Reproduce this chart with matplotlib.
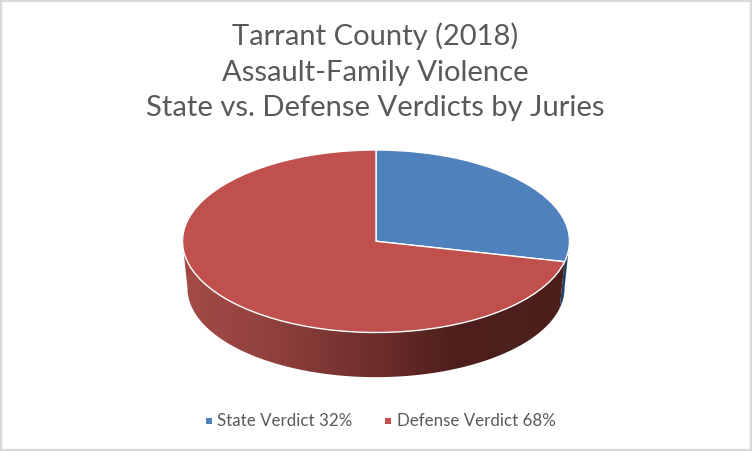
import numpy as np
import matplotlib
matplotlib.use("Agg")
import matplotlib.pyplot as plt
from matplotlib.colors import LinearSegmentedColormap
from matplotlib.patches import Rectangle, Polygon

title_lines = ["Tarrant County (2018)", "Assault-Family Violence", "State vs. Defense Verdicts by Juries"]
categories = ["State Verdict 32%", "Defense Verdict 68%"]
# slice shares as drawn in the picture (perspective makes the blue slice look smaller than its label)
drawn_shares = [28.6, 71.4]
colors = ["#4F81BD", "#C0504D"]
text_color = "#595959"

W, H = 752, 452
fig = plt.figure(figsize=(W / 100, H / 100), dpi=100, facecolor="white")
plt.rcParams["font.family"] = ["Lato", "DejaVu Sans"]

# Frame
fig.add_artist(Rectangle((1 / W, 1.5 / H), (W - 2.5) / W, (H - 3.5) / H, transform=fig.transFigure,
                         fill=False, ec="#D9D9D9", lw=1.6))

# Pie axes: the box is the top ellipse
x0, x1, y0, y1 = 182.5, 569.5, 151, 333.5
ax = fig.add_axes([x0 / W, 1 - y1 / H, (x1 - x0) / W, (y1 - y0) / H])
ax.pie(drawn_shares, colors=colors, startangle=90, counterclock=False, radius=1,
       wedgeprops=dict(edgecolor="white", linewidth=1.0, zorder=5, clip_on=False))
ax.set_aspect("auto")
ax.axis("off")

# Extruded side: horizontal gradient clipped to the outline of the rim
depth = 47 / 91.25
shrink = 188.5 / 193.5
boundary = 360 - (drawn_shares[0] / sum(drawn_shares) * 360 - 90)


def rim(a_from, a_to):
    t = np.radians(np.linspace(a_from, a_to, 200))
    top = np.column_stack([np.cos(t), np.sin(t)])
    bottom = np.column_stack([shrink * np.cos(t), shrink * np.sin(t) - depth])[::-1]
    return np.vstack([top, bottom])


red_shade = LinearSegmentedColormap.from_list("r", [(0, "#A34A46"), (0.2, "#93433F"), (0.5, "#6E2D2B"),
                                                    (0.7, "#4E1F1D"), (1, "#4B1E1C")])
gradient = np.linspace(0, 1, 512).reshape(1, -1)
img = ax.imshow(gradient, cmap=red_shade, extent=(-1, 1, -1 - depth, 0.2), aspect="auto",
                zorder=1, interpolation="bilinear")
ax.add_patch(Polygon(rim(boundary, 360), closed=True, fc="#1F3F63", ec="none", zorder=0.5, clip_on=False))
ax.set_xlim(-1, 1)
ax.set_ylim(-1, 1)
img.set_clip_path(Polygon(rim(180, boundary), closed=True, transform=ax.transData))
img.set_clip_box(fig.bbox)

# Title
for line, y in zip(title_lines, [36, 72.5, 108.5]):
    fig.text(375.5 / W, 1 - y / H, line, ha="center", va="center", fontsize=21, color=text_color)

# Legend
legend_items = [(206, 217, 0), (385, 397, 1)]
for sx, tx, i in legend_items:
    fig.add_artist(Rectangle((sx / W, 1 - 424.5 / H), 6 / W, 6 / H, transform=fig.transFigure, fc=colors[i], ec="none"))
    fig.text(tx / W, 1 - 421.5 / H, categories[i], ha="left", va="center", fontsize=12.2, color=text_color)

fig.savefig("out.png", dpi=100, facecolor="white")
